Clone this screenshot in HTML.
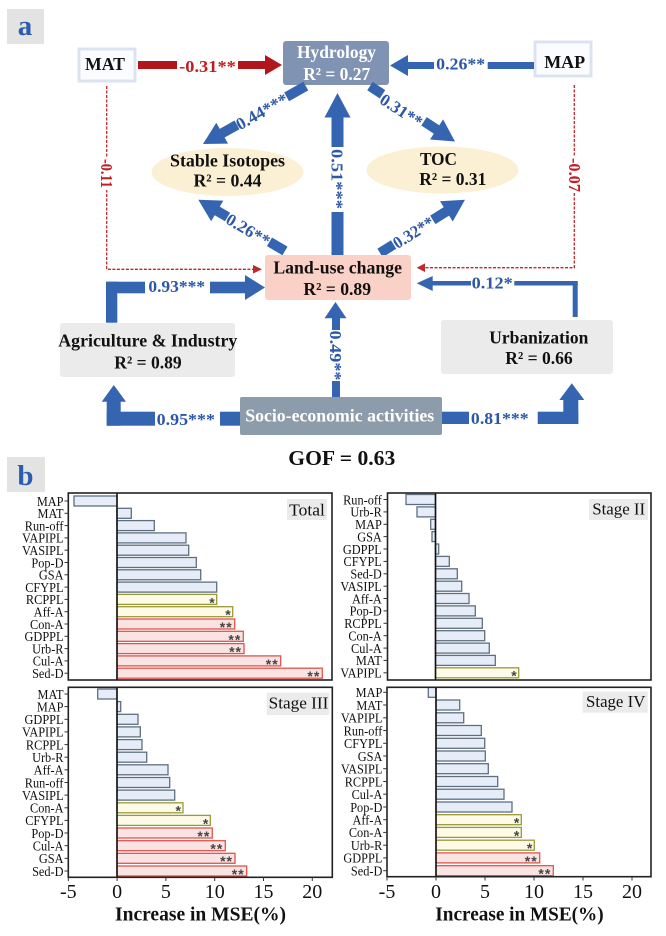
<!DOCTYPE html>
<html><head><meta charset="utf-8">
<style>
html,body{margin:0;padding:0;background:#fff;}
svg{display:block;font-family:"Liberation Serif",serif;}
.bx{font-weight:bold;font-size:18px;fill:#111;text-anchor:middle;}
.wt{font-weight:bold;font-size:18px;fill:#fff;text-anchor:middle;}
.bl{font-weight:bold;font-size:17px;fill:#2c57a6;text-anchor:middle;}
.rd{font-weight:bold;font-size:17px;fill:#c21b20;text-anchor:middle;}
.ar{fill:#3565b0;}
.b{fill:#e6edf8;stroke:#5f6f7f;stroke-width:1.3;}
.y{fill:#fdfbe8;stroke:#9b9a38;stroke-width:1.3;}
.r{fill:#f9e3e3;stroke:#e0554f;stroke-width:1.3;}
.s{font-family:"Liberation Sans",sans-serif;font-weight:bold;font-size:14px;fill:#444;text-anchor:end;}
.lab{font-size:14px;fill:#111;text-anchor:end;}
.tk{font-size:20px;fill:#111;text-anchor:middle;}
.fr{fill:none;stroke:#222;stroke-width:1.6;}
.zl{stroke:#111;stroke-width:1.6;}
.tt{font-size:17px;fill:#111;text-anchor:middle;}
.ax{font-weight:bold;font-size:20px;fill:#111;text-anchor:middle;}
</style></head>
<body>
<svg width="666" height="936" viewBox="0 0 666 936" xmlns="http://www.w3.org/2000/svg">
<!-- Panel a label -->
<rect x="7" y="9" width="37" height="35" fill="#e3e3e3"/>
<text x="25" y="35" font-size="29" font-weight="bold" fill="#2a5db0" text-anchor="middle">a</text>

<!-- MAT box -->
<rect x="79" y="49" width="56" height="32" fill="#fbfcff" stroke="#dce3f0" stroke-width="3"/>
<text class="bx" x="105" y="70" textLength="40" lengthAdjust="spacingAndGlyphs">MAT</text>
<!-- Hydrology -->
<rect x="283" y="41" width="106" height="44" rx="3" fill="#8193b2"/>
<text class="wt" x="336.5" y="58" textLength="79" lengthAdjust="spacingAndGlyphs">Hydrology</text>
<text class="wt" x="336.7" y="80" textLength="67" lengthAdjust="spacingAndGlyphs">R² = 0.27</text>
<!-- MAP box -->
<rect x="535" y="42" width="56" height="34" fill="#fbfcff" stroke="#dce3f0" stroke-width="3"/>
<text class="bx" x="564.7" y="68" textLength="41" lengthAdjust="spacingAndGlyphs">MAP</text>

<!-- MAT -> Hydrology (red) -->
<rect x="138" y="61" width="39" height="8" fill="#b0161a"/>
<rect x="238" y="61" width="28" height="8" fill="#b0161a"/>
<polygon points="265,55 282,65 265,75" fill="#b0161a"/>
<text class="rd" x="207.5" y="72" textLength="56.7" lengthAdjust="spacingAndGlyphs">-0.31**</text>

<!-- MAP -> Hydrology (blue) -->
<rect x="407" y="62" width="27" height="7" class="ar"/>
<rect x="487.7" y="62" width="46.3" height="7" class="ar"/>
<polygon points="390,65.5 408,55 408,76" class="ar"/>
<text class="bl" x="460.7" y="69.5" textLength="49" lengthAdjust="spacingAndGlyphs">0.26**</text>

<!-- Ellipses -->
<ellipse cx="227.5" cy="172" rx="76" ry="24" fill="#fbf0d4"/>
<text class="bx" x="227.5" y="166.7" textLength="115" lengthAdjust="spacingAndGlyphs">Stable Isotopes</text>
<text class="bx" x="227.5" y="186.7" textLength="68" lengthAdjust="spacingAndGlyphs">R² = 0.44</text>
<ellipse cx="442.3" cy="170" rx="76" ry="23.5" fill="#fbf0d4"/>
<text class="bx" x="438.5" y="165" textLength="37" lengthAdjust="spacingAndGlyphs">TOC</text>
<text class="bx" x="452.8" y="185" textLength="67" lengthAdjust="spacingAndGlyphs">R² = 0.31</text>

<!-- Red dashed left -->
<path d="M106.7,86 V269.3 H255" fill="none" stroke="#c0282a" stroke-width="1.3" stroke-dasharray="3,1.5"/>
<polygon points="262,269.3 253,265 253,273.6" fill="#c0282a"/>
<rect x="100" y="157" width="13" height="33" fill="#fff"/>
<text class="rd" transform="translate(106.7,173.5) rotate(90)" x="0" y="5.5" textLength="29" lengthAdjust="spacingAndGlyphs">-0.11</text>
<!-- Red dashed right -->
<path d="M574.3,85 V267.7 H424" fill="none" stroke="#c0282a" stroke-width="1.3" stroke-dasharray="3,1.5"/>
<polygon points="416.7,267.7 425,263.4 425,272" fill="#c0282a"/>
<rect x="568" y="157" width="13" height="36" fill="#fff"/>
<text class="rd" transform="translate(574.3,175) rotate(90)" x="0" y="5.5" textLength="34" lengthAdjust="spacingAndGlyphs">-0.07</text>

<!-- Vertical 0.51 -->
<polygon points="337.5,93 350.5,117.5 324.5,117.5" class="ar"/>
<rect x="331.5" y="117" width="12" height="30" class="ar"/>
<rect x="331.5" y="212" width="12" height="43" class="ar"/>
<text class="bl" transform="translate(337.5,179) rotate(90)" x="0" y="6" textLength="60" lengthAdjust="spacingAndGlyphs">0.51***</text>

<!-- Diagonal arrows -->
<g transform="translate(203,144) rotate(150.6)" class="ar">
<polygon points="0,0 -22,-12 -22,12"/>
<rect x="-39" y="-5" width="17.5" height="10"/>
<rect x="-118" y="-5" width="22" height="10"/>
</g>
<text class="bl" transform="translate(261.7,111.3) rotate(-29.4)" x="0" y="6" textLength="57" lengthAdjust="spacingAndGlyphs">0.44***</text>

<g transform="translate(455,141.5) rotate(33.1)" class="ar">
<polygon points="0,0 -22,-12 -22,12"/>
<rect x="-37" y="-5" width="15.5" height="10"/>
<rect x="-101.5" y="-5" width="15" height="10"/>
</g>
<text class="bl" transform="translate(401.5,110.3) rotate(33.1)" x="0" y="6" textLength="47" lengthAdjust="spacingAndGlyphs">0.31**</text>

<g transform="translate(198.3,199.7) rotate(-149.4)" class="ar">
<polygon points="0,0 -22,-12 -22,12"/>
<rect x="-34" y="-5" width="12.5" height="10"/>
<rect x="-100.7" y="-5" width="18" height="10"/>
</g>
<text class="bl" transform="translate(248.3,229.7) rotate(30.6)" x="0" y="6" textLength="48" lengthAdjust="spacingAndGlyphs">0.26**</text>

<g transform="translate(465,199.7) rotate(-32.1)" class="ar">
<polygon points="0,0 -22,-12 -22,12"/>
<rect x="-38" y="-5" width="16.5" height="10"/>
<rect x="-100.3" y="-5" width="16" height="10"/>
</g>
<text class="bl" transform="translate(413.3,232.2) rotate(-32.1)" x="0" y="6" textLength="45" lengthAdjust="spacingAndGlyphs">0.32**</text>

<!-- Land-use change -->
<rect x="265" y="255" width="146" height="45" rx="3" fill="#f9d1c7"/>
<text class="bx" x="337.7" y="273.3" textLength="128.7" lengthAdjust="spacingAndGlyphs">Land-use change</text>
<text class="bx" x="337.2" y="295" textLength="67.7" lengthAdjust="spacingAndGlyphs">R² = 0.89</text>

<!-- Agriculture box -->
<rect x="60" y="323" width="175" height="54" rx="3" fill="#ebebeb"/>
<text class="bx" x="147.8" y="346.7" textLength="179" lengthAdjust="spacingAndGlyphs">Agriculture &amp; Industry</text>
<text class="bx" x="148" y="368.3" textLength="67.4" lengthAdjust="spacingAndGlyphs">R² = 0.89</text>

<!-- 0.93 elbow -->
<rect x="106" y="281.7" width="11.3" height="41" class="ar"/>
<rect x="106" y="281.7" width="39" height="11.6" class="ar"/>
<rect x="210" y="281.7" width="36" height="11.6" class="ar"/>
<polygon points="245,275 265,287.5 245,300" class="ar"/>
<text class="bl" x="176.7" y="292" textLength="56.7" lengthAdjust="spacingAndGlyphs">0.93***</text>

<!-- Urbanization box -->
<rect x="441" y="320" width="172" height="54" rx="3" fill="#ebebeb"/>
<text class="bx" x="538.8" y="343.3" textLength="99" lengthAdjust="spacingAndGlyphs">Urbanization</text>
<text class="bx" x="539" y="364" textLength="67.4" lengthAdjust="spacingAndGlyphs">R² = 0.66</text>

<!-- 0.12 elbow -->
<rect x="572.7" y="281" width="5" height="36" class="ar"/>
<rect x="514.3" y="281" width="63.4" height="4.5" class="ar"/>
<rect x="432" y="281" width="39" height="4.5" class="ar"/>
<polygon points="416.7,283.3 432.7,276 432.7,291" class="ar"/>
<text class="bl" x="492.2" y="288.5" textLength="41" lengthAdjust="spacingAndGlyphs">0.12*</text>

<!-- Socio-economic box -->
<rect x="240" y="397" width="202" height="38" rx="2" fill="#8c9cab"/>
<text class="wt" x="339.7" y="421.7" fill="#f7f7f7" textLength="189" lengthAdjust="spacingAndGlyphs">Socio-economic activities</text>

<!-- 0.49 vertical -->
<polygon points="335.5,302 346.5,318.3 324.5,318.3" class="ar"/>
<rect x="332" y="318" width="8" height="12" class="ar"/>
<rect x="332" y="381" width="8" height="16" class="ar"/>
<text class="bl" transform="translate(336,355.5) rotate(90)" x="0" y="6" textLength="50" lengthAdjust="spacingAndGlyphs">0.49**</text>

<!-- 0.95 elbow -->
<rect x="106.7" y="401" width="14" height="24.7" class="ar"/>
<rect x="106.7" y="411.7" width="48.3" height="14" class="ar"/>
<rect x="220" y="411.7" width="20" height="14" class="ar"/>
<polygon points="101.7,401.7 113.8,385 126,401.7" class="ar"/>
<text class="bl" x="185.8" y="425" textLength="58.3" lengthAdjust="spacingAndGlyphs">0.95***</text>

<!-- 0.81 elbow -->
<rect x="442" y="411.7" width="27" height="12.3" class="ar"/>
<rect x="537.7" y="411.7" width="40.6" height="12.3" class="ar"/>
<rect x="563.3" y="399" width="15" height="25" class="ar"/>
<polygon points="559.3,400 571.8,383.3 584.3,400" class="ar"/>
<text class="bl" x="499.8" y="424" textLength="57.7" lengthAdjust="spacingAndGlyphs">0.81***</text>

<!-- GOF -->
<text x="341.8" y="465" font-size="21" font-weight="bold" fill="#111" text-anchor="middle" textLength="107" lengthAdjust="spacingAndGlyphs">GOF = 0.63</text>

<!-- Panel b label -->
<rect x="7" y="457" width="38" height="35" fill="#e3e3e3"/>
<text x="25.5" y="485" font-size="29" font-weight="bold" fill="#2a5db0" text-anchor="middle">b</text>

<!-- ============ TOP-LEFT: Total ============ -->
<g>
<rect class="b" x="74" y="496" width="43" height="10"/>
<rect class="b" x="117" y="508.3" width="14.3" height="10"/>
<rect class="b" x="117" y="520.6" width="37.3" height="10"/>
<rect class="b" x="117" y="532.9" width="69" height="10"/>
<rect class="b" x="117" y="545.2" width="71.7" height="10"/>
<rect class="b" x="117" y="557.5" width="79.3" height="10"/>
<rect class="b" x="117" y="569.8" width="83.7" height="10"/>
<rect class="b" x="117" y="582.1" width="99.7" height="10"/>
<rect class="y" x="117" y="594.4" width="99.7" height="10"/>
<rect class="y" x="117" y="606.7" width="115.7" height="10"/>
<rect class="r" x="117" y="619" width="117.7" height="10"/>
<rect class="r" x="117" y="631.3" width="126.3" height="10"/>
<rect class="r" x="117" y="643.6" width="127" height="10"/>
<rect class="r" x="117" y="655.9" width="163.7" height="10"/>
<rect class="r" x="117" y="668.2" width="205.3" height="10"/>
<text class="s" x="214.7" y="607.4">*</text>
<text class="s" x="230.7" y="619.7">*</text>
<text class="s" x="232.7" y="632" letter-spacing="1">**</text>
<text class="s" x="241.3" y="644.3" letter-spacing="1">**</text>
<text class="s" x="242" y="656.6" letter-spacing="1">**</text>
<text class="s" x="278.7" y="668.9" letter-spacing="1">**</text>
<text class="s" x="320.3" y="681.2" letter-spacing="1">**</text>
<line class="zl" x1="117" y1="493" x2="117" y2="680"/>
<rect class="fr" x="68.3" y="493" width="263.7" height="187"/>
<rect x="287" y="499" width="40" height="21" fill="#ebebeb"/>
<text class="tt" x="307" y="515.3" textLength="35.7" lengthAdjust="spacingAndGlyphs">Total</text>
<g stroke="#333" stroke-width="1">
<line x1="64.5" y1="501" x2="68.3" y2="501"/><line x1="64.5" y1="513.3" x2="68.3" y2="513.3"/><line x1="64.5" y1="525.6" x2="68.3" y2="525.6"/><line x1="64.5" y1="537.9" x2="68.3" y2="537.9"/><line x1="64.5" y1="550.2" x2="68.3" y2="550.2"/><line x1="64.5" y1="562.5" x2="68.3" y2="562.5"/><line x1="64.5" y1="574.8" x2="68.3" y2="574.8"/><line x1="64.5" y1="587.1" x2="68.3" y2="587.1"/><line x1="64.5" y1="599.4" x2="68.3" y2="599.4"/><line x1="64.5" y1="611.7" x2="68.3" y2="611.7"/><line x1="64.5" y1="624" x2="68.3" y2="624"/><line x1="64.5" y1="636.3" x2="68.3" y2="636.3"/><line x1="64.5" y1="648.6" x2="68.3" y2="648.6"/><line x1="64.5" y1="660.9" x2="68.3" y2="660.9"/><line x1="64.5" y1="673.2" x2="68.3" y2="673.2"/>
</g>
<g transform="scale(0.88,1)" class="lab">
<text class="lab" x="72.2" y="505.8">MAP</text>
<text class="lab" x="72.2" y="518.1">MAT</text>
<text class="lab" x="72.2" y="530.4">Run-off</text>
<text class="lab" x="72.2" y="542.7">VAPIPL</text>
<text class="lab" x="72.2" y="555">VASIPL</text>
<text class="lab" x="72.2" y="567.3">Pop-D</text>
<text class="lab" x="72.2" y="579.6">GSA</text>
<text class="lab" x="72.2" y="591.9">CFYPL</text>
<text class="lab" x="72.2" y="604.2">RCPPL</text>
<text class="lab" x="72.2" y="616.5">Aff-A</text>
<text class="lab" x="72.2" y="628.8">Con-A</text>
<text class="lab" x="72.2" y="641.1">GDPPL</text>
<text class="lab" x="72.2" y="653.4">Urb-R</text>
<text class="lab" x="72.2" y="665.7">Cul-A</text>
<text class="lab" x="72.2" y="678">Sed-D</text>
</g>
</g>

<!-- ============ TOP-RIGHT: Stage II ============ -->
<g>
<rect class="b" x="406" y="494.5" width="29.5" height="10"/>
<rect class="b" x="417" y="506.9" width="18.5" height="10"/>
<rect class="b" x="430.7" y="519.3" width="4.8" height="10"/>
<rect class="b" x="432" y="531.6" width="3.5" height="10"/>
<rect class="b" x="435.5" y="544" width="3.2" height="10"/>
<rect class="b" x="435.5" y="556.4" width="13.8" height="10"/>
<rect class="b" x="435.5" y="568.8" width="21.8" height="10"/>
<rect class="b" x="435.5" y="581.2" width="26.2" height="10"/>
<rect class="b" x="435.5" y="593.5" width="33.5" height="10"/>
<rect class="b" x="435.5" y="605.9" width="39.8" height="10"/>
<rect class="b" x="435.5" y="618.3" width="46.8" height="10"/>
<rect class="b" x="435.5" y="630.7" width="49.2" height="10"/>
<rect class="b" x="435.5" y="643.1" width="53.8" height="10"/>
<rect class="b" x="435.5" y="655.4" width="59.8" height="10"/>
<rect class="y" x="435.5" y="667.8" width="83.2" height="10"/>
<text class="s" x="516.7" y="680.7">*</text>
<line class="zl" x1="435.5" y1="493" x2="435.5" y2="680"/>
<rect class="fr" x="387.5" y="493" width="263.5" height="187"/>
<rect x="589" y="499" width="59" height="21" fill="#ebebeb"/>
<text class="tt" x="618.7" y="514.5" textLength="53" lengthAdjust="spacingAndGlyphs">Stage II</text>
<g stroke="#333" stroke-width="1">
<line x1="383.5" y1="499.5" x2="387.5" y2="499.5"/><line x1="383.5" y1="511.9" x2="387.5" y2="511.9"/><line x1="383.5" y1="524.3" x2="387.5" y2="524.3"/><line x1="383.5" y1="536.6" x2="387.5" y2="536.6"/><line x1="383.5" y1="549" x2="387.5" y2="549"/><line x1="383.5" y1="561.4" x2="387.5" y2="561.4"/><line x1="383.5" y1="573.8" x2="387.5" y2="573.8"/><line x1="383.5" y1="586.2" x2="387.5" y2="586.2"/><line x1="383.5" y1="598.5" x2="387.5" y2="598.5"/><line x1="383.5" y1="610.9" x2="387.5" y2="610.9"/><line x1="383.5" y1="623.3" x2="387.5" y2="623.3"/><line x1="383.5" y1="635.7" x2="387.5" y2="635.7"/><line x1="383.5" y1="648.1" x2="387.5" y2="648.1"/><line x1="383.5" y1="660.4" x2="387.5" y2="660.4"/><line x1="383.5" y1="672.8" x2="387.5" y2="672.8"/>
</g>
<g transform="scale(0.88,1)">
<text class="lab" x="433.9" y="504.3">Run-off</text>
<text class="lab" x="433.9" y="516.7">Urb-R</text>
<text class="lab" x="433.9" y="529.1">MAP</text>
<text class="lab" x="433.9" y="541.4">GSA</text>
<text class="lab" x="433.9" y="553.8">GDPPL</text>
<text class="lab" x="433.9" y="566.2">CFYPL</text>
<text class="lab" x="433.9" y="578.6">Sed-D</text>
<text class="lab" x="433.9" y="591">VASIPL</text>
<text class="lab" x="433.9" y="603.3">Aff-A</text>
<text class="lab" x="433.9" y="615.7">Pop-D</text>
<text class="lab" x="433.9" y="628.1">RCPPL</text>
<text class="lab" x="433.9" y="640.5">Con-A</text>
<text class="lab" x="433.9" y="652.9">Cul-A</text>
<text class="lab" x="433.9" y="665.2">MAT</text>
<text class="lab" x="433.9" y="677.6">VAPIPL</text>
</g>
</g>

<!-- ============ BOTTOM-LEFT: Stage III ============ -->
<g>
<rect class="b" x="97.7" y="689" width="19.3" height="10"/>
<rect class="b" x="117" y="701.6" width="3.7" height="10"/>
<rect class="b" x="117" y="714.3" width="21" height="10"/>
<rect class="b" x="117" y="726.9" width="23.3" height="10"/>
<rect class="b" x="117" y="739.6" width="25" height="10"/>
<rect class="b" x="117" y="752.2" width="29.7" height="10"/>
<rect class="b" x="117" y="764.8" width="51" height="10"/>
<rect class="b" x="117" y="777.5" width="52.7" height="10"/>
<rect class="b" x="117" y="790.1" width="57.7" height="10"/>
<rect class="y" x="117" y="802.8" width="66" height="10"/>
<rect class="y" x="117" y="815.4" width="93.3" height="10"/>
<rect class="r" x="117" y="828" width="95.3" height="10"/>
<rect class="r" x="117" y="840.7" width="108.3" height="10"/>
<rect class="r" x="117" y="853.3" width="118" height="10"/>
<rect class="r" x="117" y="866" width="129.7" height="10"/>
<text class="s" x="181" y="815.7">*</text>
<text class="s" x="208.3" y="828.3">*</text>
<text class="s" x="210.3" y="840.9" letter-spacing="1">**</text>
<text class="s" x="223.3" y="853.6" letter-spacing="1">**</text>
<text class="s" x="233" y="866.2" letter-spacing="1">**</text>
<text class="s" x="244.7" y="878.9" letter-spacing="1">**</text>
<line class="zl" x1="117" y1="687.3" x2="117" y2="877.3"/>
<rect class="fr" x="68.3" y="687.3" width="264" height="190"/>
<rect x="266.7" y="692.7" width="62.6" height="22.3" fill="#ebebeb"/>
<text class="tt" x="298.5" y="708.5" textLength="59.7" lengthAdjust="spacingAndGlyphs">Stage III</text>
<g stroke="#333" stroke-width="1">
<line x1="64.5" y1="694" x2="68.3" y2="694"/><line x1="64.5" y1="706.6" x2="68.3" y2="706.6"/><line x1="64.5" y1="719.3" x2="68.3" y2="719.3"/><line x1="64.5" y1="731.9" x2="68.3" y2="731.9"/><line x1="64.5" y1="744.6" x2="68.3" y2="744.6"/><line x1="64.5" y1="757.2" x2="68.3" y2="757.2"/><line x1="64.5" y1="769.8" x2="68.3" y2="769.8"/><line x1="64.5" y1="782.5" x2="68.3" y2="782.5"/><line x1="64.5" y1="795.1" x2="68.3" y2="795.1"/><line x1="64.5" y1="807.8" x2="68.3" y2="807.8"/><line x1="64.5" y1="820.4" x2="68.3" y2="820.4"/><line x1="64.5" y1="833" x2="68.3" y2="833"/><line x1="64.5" y1="845.7" x2="68.3" y2="845.7"/><line x1="64.5" y1="858.3" x2="68.3" y2="858.3"/><line x1="64.5" y1="871" x2="68.3" y2="871"/>
<line x1="68.3" y1="877.3" x2="68.3" y2="881"/><line x1="117.1" y1="877.3" x2="117.1" y2="881"/><line x1="165.9" y1="877.3" x2="165.9" y2="881"/><line x1="214.7" y1="877.3" x2="214.7" y2="881"/><line x1="263.5" y1="877.3" x2="263.5" y2="881"/><line x1="312.3" y1="877.3" x2="312.3" y2="881"/>
</g>
<g transform="scale(0.88,1)">
<text class="lab" x="72.2" y="698.8">MAT</text>
<text class="lab" x="72.2" y="711.4">MAP</text>
<text class="lab" x="72.2" y="724.1">GDPPL</text>
<text class="lab" x="72.2" y="736.7">VAPIPL</text>
<text class="lab" x="72.2" y="749.4">RCPPL</text>
<text class="lab" x="72.2" y="762">Urb-R</text>
<text class="lab" x="72.2" y="774.6">Aff-A</text>
<text class="lab" x="72.2" y="787.3">Run-off</text>
<text class="lab" x="72.2" y="799.9">VASIPL</text>
<text class="lab" x="72.2" y="812.6">Con-A</text>
<text class="lab" x="72.2" y="825.2">CFYPL</text>
<text class="lab" x="72.2" y="837.8">Pop-D</text>
<text class="lab" x="72.2" y="850.5">Cul-A</text>
<text class="lab" x="72.2" y="863.1">GSA</text>
<text class="lab" x="72.2" y="875.8">Sed-D</text>
</g>
<text class="tk" x="68.3" y="898">-5</text>
<text class="tk" x="117.1" y="898">0</text>
<text class="tk" x="165.9" y="898">5</text>
<text class="tk" x="214.7" y="898">10</text>
<text class="tk" x="263.5" y="898">15</text>
<text class="tk" x="312.3" y="898">20</text>
<text class="ax" x="200.5" y="920.7" textLength="171" lengthAdjust="spacingAndGlyphs">Increase in MSE(%)</text>
</g>

<!-- ============ BOTTOM-RIGHT: Stage IV ============ -->
<g>
<rect class="b" x="428.3" y="687.3" width="7.7" height="10"/>
<rect class="b" x="436" y="700" width="23.7" height="10"/>
<rect class="b" x="436" y="712.8" width="27.7" height="10"/>
<rect class="b" x="436" y="725.5" width="45.3" height="10"/>
<rect class="b" x="436" y="738.3" width="48.7" height="10"/>
<rect class="b" x="436" y="751" width="49.3" height="10"/>
<rect class="b" x="436" y="763.7" width="52.3" height="10"/>
<rect class="b" x="436" y="776.5" width="61.7" height="10"/>
<rect class="b" x="436" y="789.2" width="68" height="10"/>
<rect class="b" x="436" y="802" width="76" height="10"/>
<rect class="y" x="436" y="814.7" width="85.3" height="10"/>
<rect class="y" x="436" y="827.4" width="85.3" height="10"/>
<rect class="y" x="436" y="840.2" width="98.3" height="10"/>
<rect class="r" x="436" y="852.9" width="103.7" height="10"/>
<rect class="r" x="436" y="865.7" width="117.3" height="10"/>
<text class="s" x="519.3" y="827.6">*</text>
<text class="s" x="519.3" y="840.3">*</text>
<text class="s" x="532.3" y="853.1">*</text>
<text class="s" x="537.7" y="865.8" letter-spacing="1">**</text>
<text class="s" x="551.3" y="878.6" letter-spacing="1">**</text>
<line class="zl" x1="436" y1="687.3" x2="436" y2="876.7"/>
<rect class="fr" x="387" y="687.3" width="264" height="189.4"/>
<rect x="582.7" y="691.7" width="65" height="21" fill="#ebebeb"/>
<text class="tt" x="615.7" y="706.9" textLength="59.3" lengthAdjust="spacingAndGlyphs">Stage IV</text>
<g stroke="#333" stroke-width="1">
<line x1="383.2" y1="692.3" x2="387" y2="692.3"/><line x1="383.2" y1="705" x2="387" y2="705"/><line x1="383.2" y1="717.8" x2="387" y2="717.8"/><line x1="383.2" y1="730.5" x2="387" y2="730.5"/><line x1="383.2" y1="743.3" x2="387" y2="743.3"/><line x1="383.2" y1="756" x2="387" y2="756"/><line x1="383.2" y1="768.7" x2="387" y2="768.7"/><line x1="383.2" y1="781.5" x2="387" y2="781.5"/><line x1="383.2" y1="794.2" x2="387" y2="794.2"/><line x1="383.2" y1="807" x2="387" y2="807"/><line x1="383.2" y1="819.7" x2="387" y2="819.7"/><line x1="383.2" y1="832.4" x2="387" y2="832.4"/><line x1="383.2" y1="845.2" x2="387" y2="845.2"/><line x1="383.2" y1="857.9" x2="387" y2="857.9"/><line x1="383.2" y1="870.7" x2="387" y2="870.7"/>
<line x1="387" y1="876.7" x2="387" y2="880.5"/><line x1="436" y1="876.7" x2="436" y2="880.5"/><line x1="485" y1="876.7" x2="485" y2="880.5"/><line x1="534" y1="876.7" x2="534" y2="880.5"/><line x1="583" y1="876.7" x2="583" y2="880.5"/><line x1="632" y1="876.7" x2="632" y2="880.5"/>
</g>
<g transform="scale(0.88,1)">
<text class="lab" x="434.5" y="697.1">MAP</text>
<text class="lab" x="434.5" y="709.8">MAT</text>
<text class="lab" x="434.5" y="722.6">VAPIPL</text>
<text class="lab" x="434.5" y="735.3">Run-off</text>
<text class="lab" x="434.5" y="748.1">CFYPL</text>
<text class="lab" x="434.5" y="760.8">GSA</text>
<text class="lab" x="434.5" y="773.5">VASIPL</text>
<text class="lab" x="434.5" y="786.3">RCPPL</text>
<text class="lab" x="434.5" y="799">Cul-A</text>
<text class="lab" x="434.5" y="811.8">Pop-D</text>
<text class="lab" x="434.5" y="824.5">Aff-A</text>
<text class="lab" x="434.5" y="837.2">Con-A</text>
<text class="lab" x="434.5" y="850">Urb-R</text>
<text class="lab" x="434.5" y="862.7">GDPPL</text>
<text class="lab" x="434.5" y="875.5">Sed-D</text>
</g>
<text class="tk" x="387" y="898">-5</text>
<text class="tk" x="436" y="898">0</text>
<text class="tk" x="485" y="898">5</text>
<text class="tk" x="534" y="898">10</text>
<text class="tk" x="583" y="898">15</text>
<text class="tk" x="632" y="898">20</text>
<text class="ax" x="519.5" y="920.3" textLength="168.4" lengthAdjust="spacingAndGlyphs">Increase in MSE(%)</text>
</g>
</svg>
</body></html>
